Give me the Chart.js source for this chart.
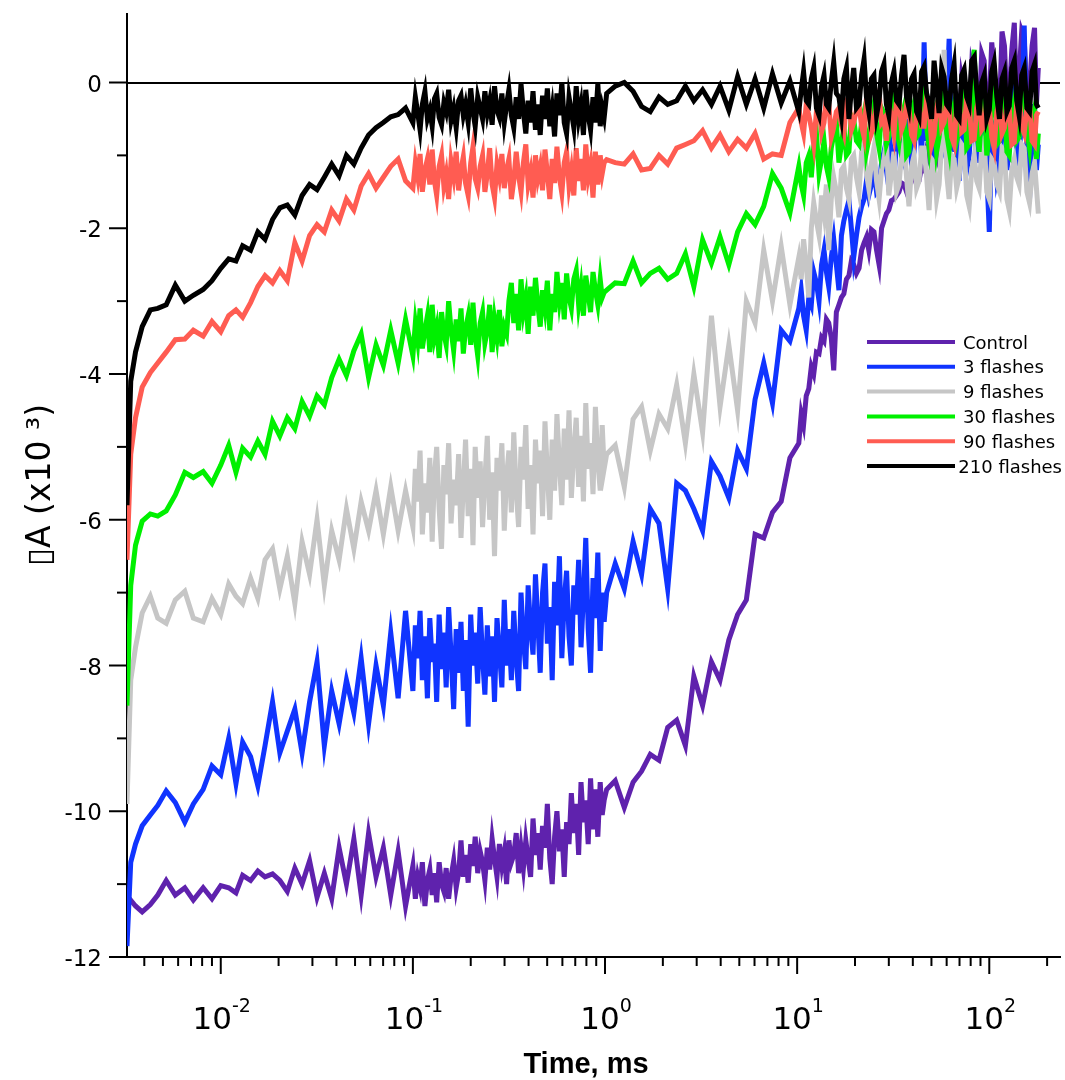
<!DOCTYPE html>
<html><head><meta charset="utf-8">
<script src="https://cdn.jsdelivr.net/npm/chart.js@4/dist/chart.umd.min.js"></script>
<style>html,body{margin:0;padding:0;background:#fff}canvas{display:block}</style>
</head><body>
<canvas id="c" width="1065" height="1080"></canvas>
<script>
// ---- time axis (ms), four acquisition segments ----
const timesEarly = [0.00325,0.0034,0.0036,0.0039,0.0043,0.0047,0.0052,0.0058,0.0065,0.0072,
 0.0081,0.009,0.01,0.011,0.012,0.013,0.0143,0.0156,0.017,0.0186,
 0.0203,0.0222,0.0243,0.0265,0.029,0.0317,0.0346,0.0378,0.0413,0.0451,
 0.0493,0.0538,0.0588,0.0643,0.0702,0.0767,0.0838,0.0916];
const timesFast = [0.1,0.103,0.106,0.109,0.112,0.1155,0.119,0.1225,0.126,0.1295,
 0.133,0.137,0.141,0.145,0.149,0.1535,0.158,0.163,0.168,0.173,
 0.178,0.183,0.188,0.194,0.2,0.2055,0.211,0.2175,0.224,0.2305,
 0.237,0.244,0.251,0.2585,0.266,0.274,0.282,0.2905,0.299,0.3075,
 0.316,0.3255,0.335,0.345,0.355,0.3655,0.376,0.387,0.398,0.41,
 0.422,0.4345,0.447,0.46,0.473,0.487,0.501,0.516,0.531,0.5465,
 0.562,0.579,0.596,0.6135,0.631,0.6495,0.668,0.688,0.708,0.729,
 0.75,0.772,0.794,0.8175,0.841,0.866,0.891,0.9175,0.944,0.967,
 0.99];
const timesMid = [1.02,1.13,1.26,1.4,1.55,1.72,1.91,2.12,2.36,2.62,2.9,3.22,3.58,3.97,4.41,4.9,5.44,6.04,6.7,7.44,8.26,9.17];
const timesLate = [10.2,10.5,10.8,11.15,11.5,11.85,12.2,12.6,13,13.4,
 13.8,14.2,14.6,15.05,15.5,16,16.5,17,17.5,18.05,
 18.6,19.15,19.7,20.35,21,21.65,22.3,22.95,23.6,24.35,
 25.1,25.9,26.7,27.5,28.3,29.15,30,30.95,31.9,32.9,
 33.9,34.95,36,37.1,38.2,39.4,40.6,41.85,43.1,44.45,
 45.8,47.2,48.6,50.1,51.6,53.2,54.8,56.5,58.2,60,
 61.8,63.7,65.6,67.65,69.7,71.85,74,76.3,78.6,81.05,
 83.5,86.05,88.6,91.35,94.1,97.05,100,103,106,109.5,
 113,116.5,120,123.5,127,131,135,139,143,147.5,
 152,157,162,167,172,176,180];

// ---- Control ----
const controlEarly = [-11.25,-11.22,-11.3,-11.38,-11.28,-11.15,-10.95,-11.15,-11.05,-11.22,
 -11.05,-11.2,-11.02,-11.05,-11.12,-10.88,-10.95,-10.82,-10.9,-10.86,
 -10.95,-11.1,-10.78,-11.0,-10.68,-11.18,-10.85,-11.2,-10.5,-11.0,
 -10.38,-11.15,-10.3,-10.9,-10.5,-11.15,-10.55,-11.3];
const controlFast = [-10.75,-11.2,-10.9,-11.05,-10.7,-11.3,-10.95,-10.8,-11.15,-10.85,
 -11.25,-10.7,-11.0,-11.1,-10.78,-11.2,-10.9,-10.68,-11.05,-10.85,
 -10.4,-10.9,-10.6,-10.98,-10.45,-10.75,-10.35,-10.85,-10.55,-10.7,
 -10.95,-10.5,-10.8,-10.38,-10.65,-10.9,-10.45,-10.75,-10.55,-11.0,
 -10.4,-10.7,-10.6,-10.3,-10.85,-10.5,-10.78,-10.4,-10.65,-10.9,
 -10.1,-10.6,-10.3,-10.8,-10.2,-10.5,-9.9,-10.65,-11.0,-10.35,
 -10.0,-10.55,-10.25,-10.9,-10.15,-10.45,
 -9.75,-10.3,-9.9,-10.6,-9.6,-10.15,-9.85,-10.45,-9.55,-10.25,
 -9.7,-10.35,-9.6,-10.05,-9.85];
const controlMid = [-9.7,-9.58,-9.95,-9.6,-9.45,-9.22,-9.3,-8.85,-8.75,-9.1,-8.15,
 -8.55,-7.95,-8.2,-7.65,-7.3,-7.1,-6.2,-6.25,-5.9,-5.75,-5.15];
const controlLate = [-4.95,-4.55,-4.7,-4.3,-4.2,-3.9,-4.0,-3.7,-3.72,-3.5,
 -3.55,-3.25,-3.3,-3.5,-3.95,-3.15,-3.05,-2.95,-2.9,-2.7,
 -2.65,-2.45,-2.5,-2.62,-2.55,-2.3,-2.2,-2.12,-2.3,-2.02,
 -2.05,-2.3,-2.5,-2.0,-1.9,-1.8,-1.75,-1.62,-1.6,-1.55,
 -1.5,-1.38,-1.4,-1.5,-1.45,-1.25,-1.3,-1.4,-1.35,-1.15,
 -1.2,-0.95,-1.05,-0.7,-0.8,-1.1,-1.0,-0.5,-0.65,-0.95,
 -0.85,-0.3,-0.4,-0.9,-0.7,0.05,-0.15,-0.75,-0.55,0.25,
 0.1,-0.6,-0.45,0.4,0.3,-0.5,-0.3,0.55,0.2,-0.65,
 -0.4,0.7,0.5,-0.3,-0.2,0.45,0.82,-0.4,0.1,0.7,
 0.6,-0.25,-0.1,0.5,0.75,-0.3,0.2];

// ---- 3 flashes ----
const f3Early = [-11.85,-10.7,-10.45,-10.2,-10.05,-9.92,-9.72,-9.88,-10.15,-9.9,
 -9.7,-9.38,-9.5,-9.0,-9.62,-9.05,-9.25,-9.65,-9.1,-8.5,
 -9.2,-8.9,-8.6,-9.2,-8.5,-7.95,-9.1,-8.35,-8.8,-8.2,
 -8.65,-7.9,-8.8,-8.0,-8.55,-7.55,-8.45,-7.25];
const f3Fast = [-8.35,-7.45,-7.9,-7.25,-8.2,-7.6,-8.45,-7.35,-7.95,-7.7,
 -8.5,-7.3,-8.05,-7.55,-8.3,-7.2,-7.85,-8.6,-7.5,-8.1,
 -7.4,-8.35,-7.65,-8.84,-7.3,-8.0,-7.55,-8.25,-7.2,-7.9,
 -8.4,-7.45,-8.15,-7.6,-8.5,-7.35,-7.8,-8.3,-7.1,-8.0,
 -7.5,-8.2,-7.25,-7.9,-8.35,
 -7.0,-7.65,-8.05,-6.9,-7.5,-7.85,-6.75,-7.4,-8.1,-7.0,
 -6.6,-7.7,-7.2,-8.2,-6.85,-7.45,-6.5,-7.9,-7.1,-6.7,
 -7.6,-8.0,-6.9,-7.3,-6.55,-7.75,-7.05,-6.25,-7.5,-8.1,
 -6.8,-7.35,-6.45,-7.8,-7.0,-7.4];
const f3Mid = [-7.0,-6.6,-6.95,-6.3,-6.75,-5.85,-6.05,-6.95,-5.5,-5.6,-5.85,
 -6.15,-5.2,-5.4,-5.7,-5.05,-5.3,-4.35,-3.85,-4.4,-3.4,-3.55];
const f3Late = [-3.1,-2.85,-3.2,-3.4,-2.95,-3.05,-2.6,-2.75,-3.0,-2.5,
 -2.3,-2.6,-2.8,-2.4,-2.15,-2.5,-2.85,-2.1,-1.9,-1.75,
 -1.62,-2.0,-2.4,-2.1,-1.85,-1.7,-1.6,-1.35,-1.55,-1.4,
 -1.2,-1.5,-1.45,-1.1,-0.95,-1.2,-0.7,-0.95,-1.3,-0.85,
 -0.6,-1.0,-1.1,-0.75,-0.5,-1.15,-0.95,-0.45,-0.3,-1.05,
 0.55,-0.8,-0.6,-1.2,-1.1,-0.5,-0.4,-1.0,-0.9,-0.35,
 0.6,-0.95,-0.7,-0.4,-1.35,-0.8,-0.5,-1.2,-1.0,-0.45,
 -0.3,-1.1,-0.85,-0.5,-0.2,-1.25,-2.05,-0.7,-0.6,-1.3,
 -1.1,-0.55,-0.25,-1.2,-0.9,-0.4,0.2,-1.1,-1.0,-0.5,
 0.78,-0.9,-1.6,-0.6,-0.3,-1.2,-0.85];

// ---- 9 flashes ----
const f9Early = [-9.9,-8.2,-7.75,-7.28,-7.05,-7.35,-7.42,-7.1,-6.98,-7.35,
 -7.4,-7.08,-7.3,-6.88,-7.05,-7.15,-6.8,-7.08,-6.55,-6.4,
 -6.95,-6.5,-7.15,-6.3,-6.75,-6.0,-6.9,-6.15,-6.55,-5.85,
 -6.4,-5.75,-6.15,-5.6,-6.2,-5.55,-6.15,-5.6];
const f9Fast = [-6.1,-5.3,-5.75,-5.05,-6.2,-5.5,-5.9,-5.15,-6.3,-5.4,
 -5.0,-5.85,-6.4,-5.25,-5.65,-4.95,-6.05,-5.45,-5.8,-5.1,
 -6.25,-5.55,-4.9,-5.95,-5.3,-6.35,-5.0,-5.7,-5.2,-6.1,
 -5.45,-4.85,-6.0,-5.35,-6.5,-5.15,-5.6,-4.95,-6.15,-5.4,
 -5.05,-5.9,-4.8,-5.6,-6.1,-5.0,-5.45,-4.7,-5.85,-5.25,
 -6.2,-4.9,-5.5,-5.05,-5.95,-4.65,-5.35,-6.0,-4.9,-5.6,
 -4.55,-5.25,-5.8,-4.75,-5.45,-4.5,-5.7,-5.05,-4.6,-5.55,
 -4.85,-5.75,-4.4,-5.3,-4.95,-5.65,-4.45,-5.2,-5.6,-4.7,
 -5.3];
const f9Mid = [-5.1,-4.98,-5.55,-4.62,-4.45,-5.05,-4.55,-4.75,-4.15,-4.95,-4.0,
 -4.8,-3.2,-4.45,-3.6,-4.5,-3.0,-3.3,-2.3,-3.0,-2.25,-3.05];
const f9Late = [-2.4,-2.7,-2.15,-2.5,-2.95,-2.0,-1.65,-1.9,-2.1,-1.55,
 -1.8,-1.4,-2.3,-1.6,-1.3,-1.5,-1.85,-1.2,-1.15,-1.45,
 -1.6,-1.05,-1.0,-1.3,-1.5,-0.95,-0.85,-1.25,-1.45,-1.1,
 -0.9,-1.35,-1.6,-1.2,-1.05,-0.8,-1.55,-1.25,-0.95,-1.5,
 -1.4,-1.0,-0.8,-1.3,-1.7,-1.15,-1.0,-1.45,-1.35,-0.9,
 -0.9,-1.3,-1.75,-1.05,-1.1,-1.6,-1.4,-0.85,0.45,-1.25,
 -1.6,-1.0,-1.05,-1.45,-1.3,-0.85,-0.9,-1.55,-1.7,-1.2,
 -1.0,-1.35,-1.45,-0.9,-0.8,-1.5,-1.6,-1.05,-1.1,-1.4,
 -1.5,-0.9,-0.95,-1.6,-1.75,-1.2,-1.05,-1.3,-1.4,-0.85,
 -0.9,-1.5,-1.65,-1.25,-1.1,-1.45,-1.8];

// ---- 30 flashes ----
const f30Early = [-8.55,-6.9,-6.35,-6.02,-5.92,-5.95,-5.88,-5.66,-5.35,-5.42,
 -5.34,-5.5,-5.25,-4.98,-5.35,-5.02,-5.14,-4.92,-5.1,-4.65,
 -4.85,-4.6,-4.75,-4.38,-4.58,-4.3,-4.42,-4.05,-3.8,-4.02,
 -3.68,-3.45,-4.05,-3.6,-3.88,-3.4,-3.85,-3.25];
const f30Fast = [-3.75,-3.3,-3.55,-3.1,-3.65,-3.4,-3.2,-3.7,-3.05,-3.5,
 -3.35,-3.78,-3.15,-3.45,-3.6,-3.0,-3.4,-3.68,-3.25,-3.55,
 -3.1,-3.72,-3.38,-3.2,-3.6,-3.02,-3.48,-3.75,-3.3,-3.15,
 -3.58,-3.4,-3.05,-3.7,-3.25,-3.5,-3.12,-3.62,-3.35,-3.45,
 -3.0,-2.75,-3.3,-2.9,-3.4,-2.7,-3.15,-2.95,-3.45,-2.8,
 -3.2,-2.68,-3.05,-3.35,-2.85,-3.1,-2.72,-3.4,-2.9,-3.15,
 -2.6,-3.0,-2.75,-3.25,-2.62,-2.95,-3.1,-2.7,-2.58,-3.05,
 -2.8,-3.2,-2.65,-2.9,-3.15,-2.6,-2.85,-3.05,-2.7,-2.95,
 -2.88];
const f30Mid = [-2.85,-2.75,-2.76,-2.45,-2.75,-2.62,-2.55,-2.7,-2.62,-2.35,-2.8,
 -2.16,-2.48,-2.12,-2.5,-2.05,-1.8,-1.95,-1.7,-1.25,-1.45,-1.79];
const f30Late = [-1.15,-1.4,-1.55,-1.1,-1.0,-1.3,-0.88,-0.7,-1.25,-1.05,
 -0.8,-1.15,-1.3,-0.9,-0.72,-0.55,-1.1,-0.85,-0.6,-1.0,
 -0.95,-0.45,-0.5,-0.8,-0.85,-0.55,-0.4,-0.95,-0.78,-0.5,
 -0.3,-0.7,-0.9,-0.35,-0.42,-0.85,-0.75,-0.45,-0.2,-0.65,
 -0.82,-0.5,-0.35,-1.0,-0.95,-0.4,-0.28,-0.75,-0.7,-0.3,
 -0.15,-0.6,-0.88,-0.5,-0.4,-0.95,-0.75,-0.25,-0.1,-0.7,
 -0.92,-0.45,-0.3,-0.8,-0.65,-0.2,0.05,-0.9,-0.85,-0.35,
 0.45,-0.6,-0.95,-0.4,-0.2,-1.0,-0.7,-0.3,0.1,-0.85,
 -0.8,-0.5,-0.3,-0.95,-1.0,-0.45,-0.25,-0.8,-0.75,-0.2,
 0.05,-0.65,-0.9,-0.5,-0.35,-1.05,-0.7];

// ---- 90 flashes ----
const f90Early = [-6.55,-5.1,-4.6,-4.18,-3.98,-3.85,-3.7,-3.53,-3.52,-3.4,
 -3.48,-3.28,-3.42,-3.2,-3.12,-3.22,-3.02,-2.8,-2.65,-2.75,
 -2.58,-2.72,-2.2,-2.45,-2.1,-1.95,-2.05,-1.75,-1.9,-1.6,
 -1.75,-1.42,-1.25,-1.45,-1.3,-1.15,-1.05,-1.35];
const f90Fast = [-1.45,-1.1,-1.3,-0.98,-1.5,-1.2,-1.05,-1.4,-0.92,-1.35,
 -1.55,-1.15,-1.0,-1.42,-1.25,-1.6,-1.08,-1.3,-0.95,-1.48,
 -1.2,-1.02,-1.38,-1.55,-1.1,-0.88,-1.32,-1.45,-1.15,-1.0,
 -1.5,-1.25,-0.9,-1.4,-1.58,-1.12,-1.3,-0.98,-1.45,-1.2,
 -1.05,-1.6,-1.35,-0.95,-1.28,-1.5,-1.1,-0.85,-1.4,-1.22,
 -1.58,-1.0,-1.32,-1.15,-1.48,-0.92,-1.25,-1.6,-1.05,-1.38,
 -0.88,-1.3,-1.52,-1.1,-0.95,-1.42,-1.2,-1.55,-0.9,-1.35,
 -1.05,-1.48,-0.85,-1.3,-1.12,-1.58,-0.95,-1.4,-1.0,-1.25,
 -1.1];
const f90Mid = [-1.06,-1.1,-1.12,-0.98,-1.2,-1.18,-1.0,-1.12,-0.9,-0.85,-0.8,
 -0.66,-0.9,-0.72,-0.95,-0.78,-0.9,-0.7,-1.05,-0.98,-1.0,-0.55];
const f90Late = [-0.35,-0.55,-0.7,-0.3,-0.45,-0.62,-0.85,-0.4,-0.3,-0.68,
 -0.55,-0.2,-0.28,-0.75,-0.62,-0.4,-0.35,-0.58,-0.7,-0.25,
 -0.2,-0.65,-0.55,-0.38,-0.3,-0.6,-0.75,-0.22,-0.25,-0.7,
 -0.6,-0.3,-0.15,-0.55,-0.5,-0.8,-0.3,-0.45,-0.7,-0.25,
 -0.2,-0.65,-0.55,-0.3,-0.35,-0.72,-0.8,-0.4,-0.25,-0.6,
 -0.6,-0.22,-0.3,-0.85,-0.72,-0.35,-0.18,-0.62,-0.55,-0.28,
 -0.35,-0.75,-0.85,-0.3,-0.25,-0.68,-0.65,-0.2,-0.3,-0.8,
 -0.78,-0.35,-0.2,-0.65,-0.6,-0.25,-0.32,-0.75,-0.9,-0.4,
 -0.25,-0.7,-0.62,-0.3,-0.35,-0.85,-0.82,-0.28,-0.2,-0.6,
 -0.7,-0.35,-0.3,-0.8,-0.85,-0.45,-0.4];

// ---- 210 flashes ----
const f210Early = [-5.8,-4.1,-3.7,-3.35,-3.12,-3.1,-3.05,-2.78,-3.0,-2.92,
 -2.84,-2.72,-2.55,-2.42,-2.45,-2.24,-2.3,-2.05,-2.15,-1.88,
 -1.72,-1.68,-1.82,-1.55,-1.4,-1.47,-1.3,-1.12,-1.28,-1.0,
 -1.12,-0.9,-0.72,-0.62,-0.55,-0.47,-0.44,-0.35];
const f210Fast = [-0.55,-0.2,-0.42,-0.65,-0.3,-0.12,-0.5,-0.38,-0.6,-0.22,
 -0.15,-0.48,-0.58,-0.28,-0.4,-0.1,-0.52,-0.35,-0.62,-0.25,
 -0.18,-0.45,-0.3,-0.55,-0.08,-0.4,-0.6,-0.2,-0.35,-0.5,
 -0.12,-0.42,-0.25,-0.58,-0.05,-0.38,-0.48,-0.15,-0.55,-0.3,
 -0.1,-0.45,-0.62,-0.2,-0.5,-0.02,-0.4,-0.7,-0.25,-0.55,
 -0.12,-0.65,-0.3,-0.72,-0.18,-0.5,-0.08,-0.6,-0.35,-0.74,
 -0.15,-0.45,0.0,-0.55,-0.7,-0.2,-0.4,-0.62,-0.05,-0.5,
 -0.3,-0.72,-0.1,-0.45,-0.65,-0.2,-0.55,-0.02,-0.6,-0.35,
 -0.48];
const f210Mid = [-0.15,-0.05,0.0,-0.12,-0.33,-0.4,-0.2,-0.3,-0.25,-0.05,-0.25,
 -0.1,-0.3,-0.05,-0.38,0.08,-0.3,0.05,-0.35,0.12,-0.28,0.02];
const f210Late = [-0.4,-0.1,0.15,-0.25,-0.3,0.05,0.2,-0.35,-0.45,-0.05,
 0.1,-0.3,-0.35,0.0,0.28,-0.15,-0.2,-0.45,0.05,0.2,
 -0.5,-0.1,0.2,-0.35,-0.3,0.1,0.32,-0.2,-0.4,0.05,
 0.1,-0.45,-0.25,0.15,0.25,-0.3,-0.45,0.0,0.15,-0.25,
 -0.3,0.1,0.38,-0.2,-0.35,0.05,0.12,-0.4,-0.48,0.15,
 0.22,-0.15,-0.28,-0.5,0.3,-0.05,-0.42,0.2,0.08,-0.3,
 -0.35,0.05,0.25,-0.45,-0.5,0.1,0.18,-0.2,-0.3,0.3,
 0.35,-0.1,-0.45,0.0,0.1,-0.5,-0.38,0.15,0.28,-0.2,
 -0.5,0.05,0.15,-0.4,-0.32,0.2,0.3,-0.25,-0.45,0.1,
 0.2,-0.35,-0.4,0.15,0.25,-0.3,-0.35];

const times = [...timesEarly, ...timesFast, ...timesMid, ...timesLate];
const control = [...controlEarly, ...controlFast, ...controlMid, ...controlLate];
const flashes3 = [...f3Early, ...f3Fast, ...f3Mid, ...f3Late];
const flashes9 = [...f9Early, ...f9Fast, ...f9Mid, ...f9Late];
const flashes30 = [...f30Early, ...f30Fast, ...f30Mid, ...f30Late];
const flashes90 = [...f90Early, ...f90Fast, ...f90Mid, ...f90Late];
const flashes210 = [...f210Early, ...f210Fast, ...f210Mid, ...f210Late];

const seriesLabels = ['Control','3 flashes','9 flashes','30 flashes','90 flashes','210 flashes'];
const seriesValues = [control, flashes3, flashes9, flashes30, flashes90, flashes210];
const seriesColors = ['#5f22ad','#1034ff','#c6c6c6','#00f000','#ff5c52','#000000'];

const yMajorTicks = [-12,-10,-8,-6,-4,-2,0];
const yTickLabels = ['-12','-10','-8','-6','-4','-2','0'];
const yMinorTicks = [-11,-9,-7,-5,-3,-1];
const xMajorTicks = [0.01,0.1,1,10,100];
const xTickBase = '10';
const xTickExponents = ['-2','-1','0','1','2'];
const xMinorTicks = [0.004,0.005,0.006,0.007,0.008,0.009,
 0.02,0.03,0.04,0.05,0.06,0.07,0.08,0.09,
 0.2,0.3,0.4,0.5,0.6,0.7,0.8,0.9,
 2,3,4,5,6,7,8,9,
 20,30,40,50,60,70,80,90,200];
const xTitle = 'Time, ms';
const yTitle = '\u25AFA (x10 \u00B3)';

const FONT = '"DejaVu Sans"';

const decor = {
  id: 'decor',
  afterDraw(chart) {
    const {ctx, chartArea: a, scales: {x, y}} = chart;
    ctx.save();
    ctx.strokeStyle = '#000';
    ctx.fillStyle = '#000';
    ctx.lineWidth = 2;
    const seg = (x1, y1, x2, y2) => { ctx.beginPath(); ctx.moveTo(x1, y1); ctx.lineTo(x2, y2); ctx.stroke(); };
    yMajorTicks.forEach(v => { const p = y.getPixelForValue(v); seg(a.left - 18, p, a.left, p); });
    yMinorTicks.forEach(v => { const p = y.getPixelForValue(v); seg(a.left - 10, p, a.left, p); });
    ctx.font = '23px ' + FONT;
    ctx.textAlign = 'right';
    ctx.textBaseline = 'alphabetic';
    yMajorTicks.forEach((v, i) => ctx.fillText(yTickLabels[i], a.left - 25, y.getPixelForValue(v) + 9));
    xMajorTicks.forEach(v => { const p = x.getPixelForValue(v); seg(p, a.bottom, p, a.bottom + 17); });
    xMinorTicks.forEach(v => { const p = x.getPixelForValue(v); seg(p, a.bottom, p, a.bottom + 9); });
    ctx.textAlign = 'left';
    xMajorTicks.forEach((v, i) => {
      const p = x.getPixelForValue(v);
      ctx.font = '31px ' + FONT; const w1 = ctx.measureText(xTickBase).width;
      ctx.font = '19px ' + FONT; const w2 = ctx.measureText(xTickExponents[i]).width;
      const s = p - (w1 + w2) / 2 + 1;
      ctx.font = '31px ' + FONT; ctx.fillText(xTickBase, s, a.bottom + 72);
      ctx.font = '19px ' + FONT; ctx.fillText(xTickExponents[i], s + w1, a.bottom + 55);
    });
    ctx.font = 'bold 29px "Liberation Sans"';
    ctx.textAlign = 'center';
    ctx.fillText(xTitle, 586, a.bottom + 116);
    ctx.save();
    ctx.translate(50, 485);
    ctx.rotate(-Math.PI / 2);
    ctx.font = '33px ' + FONT;
    ctx.fillText(yTitle, 0, 0);
    ctx.restore();
    ctx.font = '18px ' + FONT;
    ctx.textAlign = 'left';
    seriesLabels.forEach((lab, i) => {
      const yy = 342 + i * 24.8;
      ctx.strokeStyle = seriesColors[i];
      ctx.lineWidth = 4;
      seg(867, yy, 955, yy);
      const w = ctx.measureText(lab).width;
      ctx.fillStyle = '#000';
      ctx.fillText(lab, Math.min(963, 1062 - w), yy + 6.5);
    });
    ctx.restore();
  }
};

new Chart(document.getElementById('c'), {
  type: 'line',
  data: {
    datasets: seriesLabels.map((lab, k) => ({
      label: lab,
      data: times.map((t, i) => ({x: t, y: seriesValues[k][i]})),
      borderColor: seriesColors[k],
      backgroundColor: seriesColors[k],
      borderWidth: 5,
      pointRadius: 0,
      tension: 0,
      fill: false,
      order: seriesLabels.length - 1 - k
    }))
  },
  options: {
    responsive: false,
    devicePixelRatio: 1,
    animation: false,
    layout: {padding: {left: 127, right: 5, top: 14, bottom: 123}},
    plugins: {legend: {display: false}, tooltip: {enabled: false}},
    scales: {
      x: {
        type: 'logarithmic',
        min: 0.003251,
        max: 233.4,
        ticks: {display: false},
        grid: {display: false, drawTicks: false},
        border: {display: true, color: '#000', width: 2}
      },
      y: {
        type: 'linear',
        min: -12,
        max: 0.94,
        afterBuildTicks: s => { s.ticks = yMajorTicks.map(v => ({value: v})); },
        ticks: {display: false},
        grid: {
          display: true,
          drawTicks: false,
          lineWidth: 2,
          color: c => (c.tick && c.tick.value === 0) ? '#000' : 'rgba(0,0,0,0)'
        },
        border: {display: true, color: '#000', width: 2}
      }
    }
  },
  plugins: [decor]
});
</script>
</body></html>
